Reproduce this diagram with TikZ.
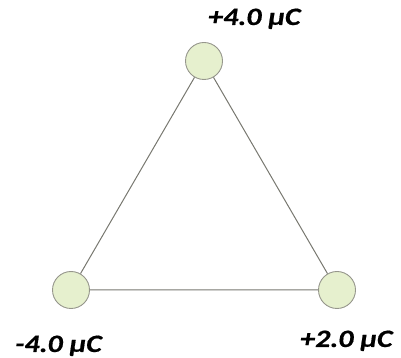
\documentclass[tikz,border=0pt]{standalone}
\usepackage{fontspec}
\setmainfont{Carlito}
\newfontfamily\labelfont[FakeStretch=1.2, FakeBold=0.6]{Carlito}
\definecolor{chargefill}{RGB}{230,240,206}
\definecolor{chargeedge}{RGB}{150,150,140}
\definecolor{sidegray}{RGB}{120,120,112}
\tikzset{
  charge/.style={circle, draw=chargeedge, fill=chargefill, line width=0.9pt, minimum size=37pt, inner sep=0pt},
  qlabel/.style={anchor=base west, inner sep=0pt, font=\labelfont\fontsize{25}{29}\selectfont\bfseries\itshape}
}
\begin{document}
\begin{tikzpicture}[x=1pt, y=1pt]
   \useasboundingbox (0,0) rectangle (401,358);
   \node[charge] (qtop)   at (204,297) {};
   \node[charge] (qleft)  at (71,68)   {};
   \node[charge] (qright) at (337,68)  {};
   \draw[sidegray, line width=1pt] (qtop) -- (qleft) -- (qright) -- (qtop);
   \node[qlabel] (ltop)   at (208,333) {+4.0 µC};
   \node[qlabel] (lleft)  at (15,6)    {-4.0 µC};
   \node[qlabel] (lright) at (300,11)  {+2.0 µC};
\end{tikzpicture}
\end{document}
